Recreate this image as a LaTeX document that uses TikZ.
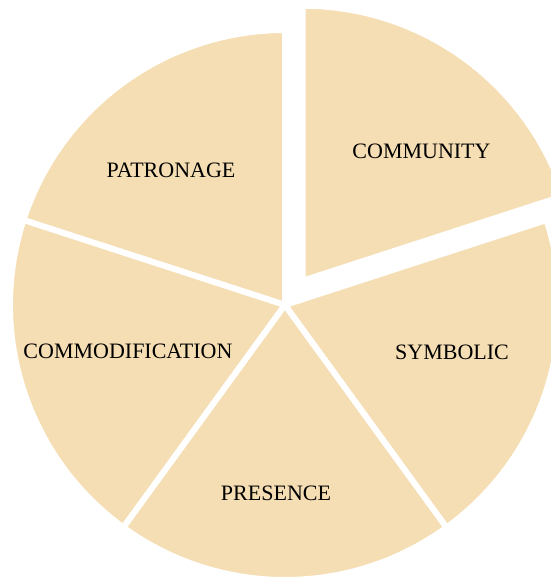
\documentclass[tikz,border=0pt]{standalone}
\usepackage{fontspec}
\setmainfont{Liberation Serif}
\definecolor{wheat}{RGB}{245,222,179}

\begin{document}
\begin{tikzpicture}[
    x=1pt, y=1pt,
    % Slice and label styles
    slice/.style={
        fill=wheat,
        draw=white,
        line width=6pt,
        line join=round
    },
    slicelabel/.style={
        anchor=base,
        inner sep=0pt,
        font=\fontsize{22}{24}\selectfont,
        text=black
    }
]

\useasboundingbox (0,0) rectangle (551,579);
\clip (0,0) rectangle (551,579);

\def\radius{275pt}
\coordinate (centre) at (285,274);

% Five equal slices, the first one pulled out
\foreach \start/\pull in {18/30, 90/0, 162/0, 234/0, 306/0} {
    \draw[slice]
        ([shift={(\start+36:\pull pt)}]centre) -- ++(\start:\radius)
        arc[start angle=\start, end angle=\start+72, radius=\radius]
        -- cycle;
}

% Labels
\node[slicelabel] (community) at (421.5,420.5) {COMMUNITY};
\node[slicelabel] (patronage) at (171,401.5) {PATRONAGE};
\node[slicelabel] (commodification) at (128,220.5) {COMMODIFICATION};
\node[slicelabel] (symbolic) at (452,219.5) {SYMBOLIC};
\node[slicelabel] (presence) at (276,78.5) {PRESENCE};

\end{tikzpicture}
\end{document}
